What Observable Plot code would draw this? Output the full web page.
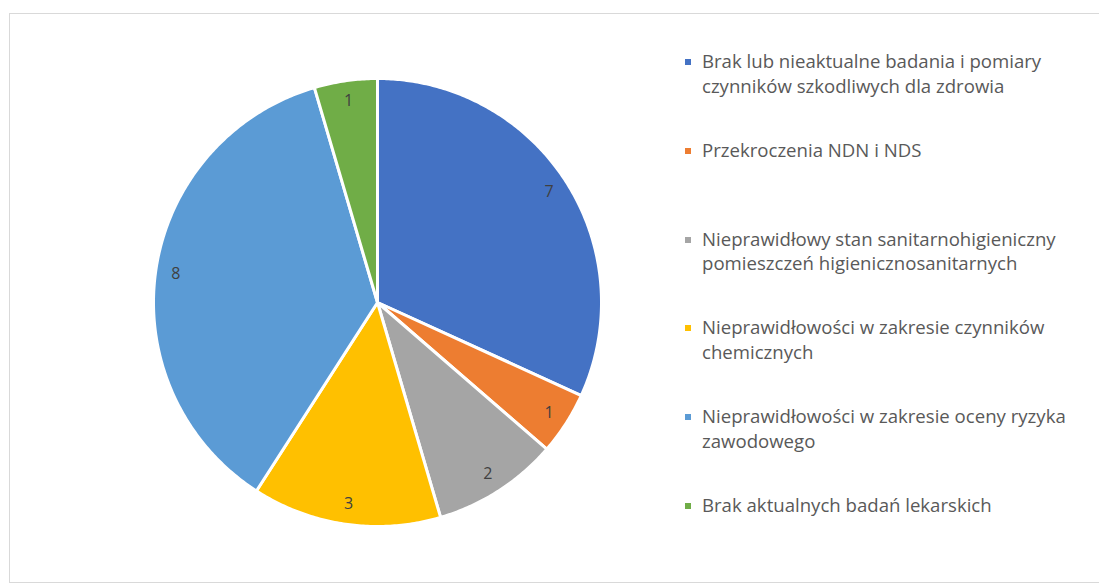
<!DOCTYPE html>
<html>
<head>
<meta charset="utf-8">
<script src="https://cdn.jsdelivr.net/npm/d3@7"></script>
<script src="https://cdn.jsdelivr.net/npm/@observablehq/plot@0.6"></script>
<style>
  html, body { margin: 0; padding: 0; background: #fff; }
  #wrap { position: relative; width: 1099px; height: 585px; overflow: hidden; font-family: "Open Sans", sans-serif; }
  #border { position: absolute; left: 9px; top: 13px; width: 1200px; height: 570px; border: 1px solid #d9d9d9; box-sizing: border-box; }
  #chart { position: absolute; left: 0; top: 0; }
  #legend { position: absolute; left: 685px; top: 49px; }
  .item { position: relative; height: 88.8px; padding-left: 17px; width: 388px; color: #595959; font-size: 18.6px; line-height: 24.5px; }
  .sw { position: absolute; left: 0; top: 10px; width: 6px; height: 6px; }
</style>
</head>
<body>
<div id="wrap">
  <div id="border"></div>
  <div id="chart"></div>
  <div id="legend"></div>
</div>
<script>
const categories = [
  "Brak lub nieaktualne badania i pomiary czynników szkodliwych dla zdrowia",
  "Przekroczenia NDN i NDS",
  "Nieprawidłowy stan sanitarnohigieniczny pomieszczeń higienicznosanitarnych",
  "Nieprawidłowości w zakresie czynników chemicznych",
  "Nieprawidłowości w zakresie oceny ryzyka zawodowego",
  "Brak aktualnych badań lekarskich"
];
const values = [7, 1, 2, 3, 8, 1];
const colors = ["#4472C4", "#ED7D31", "#A5A5A5", "#FFC000", "#5B9BD5", "#70AD47"];

const data = categories.map((c, i) => ({category: c, value: values[i]}));
const arcs = d3.pie().sort(null).value(d => d.value)(data);

// Polygon points of each slice in unit-circle coordinates
const slicePts = [];
arcs.forEach(a => {
  const cat = a.data.category;
  slicePts.push({category: cat, x: 0, y: 0});
  const n = Math.max(2, Math.ceil((a.endAngle - a.startAngle) / 0.01));
  for (let k = 0; k <= n; k++) {
    const t = a.startAngle + (a.endAngle - a.startAngle) * k / n;
    slicePts.push({category: cat, x: Math.sin(t), y: Math.cos(t)});
  }
});
const labelR = 0.91;
const labels = arcs.map(a => {
  const m = (a.startAngle + a.endAngle) / 2;
  return {label: String(a.data.value), x: labelR * Math.sin(m), y: labelR * Math.cos(m)};
});

const chart = Plot.plot({
  width: 1099,
  height: 585,
  marginLeft: 153,
  marginRight: 1099 - 601,
  marginTop: 78,
  marginBottom: 585 - 526,
  x: {domain: [-1, 1], axis: null},
  y: {domain: [-1, 1], axis: null},
  color: {domain: categories, range: colors},
  style: {background: "transparent", fontFamily: "Open Sans, sans-serif"},
  marks: [
    Plot.line(slicePts, {x: "x", y: "y", z: "category", fill: "category", stroke: "white", strokeWidth: 3, strokeLinejoin: "round", curve: "linear-closed"}),
    Plot.text(labels, {x: "x", y: "y", text: "label", fill: "#404040", fontSize: 16})
  ]
});
document.getElementById("chart").appendChild(chart);

const legend = d3.select("#legend");
categories.forEach((c, i) => {
  const it = legend.append("div").attr("class", "item");
  it.append("div").attr("class", "sw").style("background", colors[i]);
  it.append("div").text(c);
});
</script>
</body>
</html>
